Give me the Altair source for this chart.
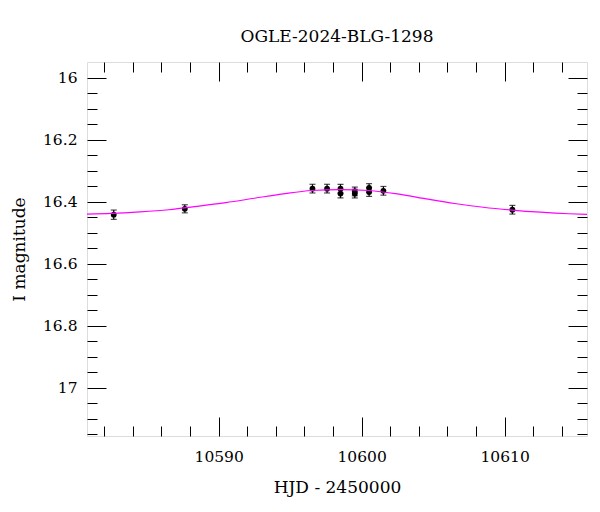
import altair as alt
import pandas as pd

# Observations (HJD - 2450000, I mag, error)
hjd = [10582.66, 10587.63, 10596.56, 10597.58, 10598.52, 10598.52, 10599.52, 10599.52,
       10600.52, 10600.52, 10601.52, 10610.54]
mag = [16.442, 16.423, 16.358, 16.358, 16.358, 16.374, 16.367, 16.374,
       16.356, 16.369, 16.365, 16.426]
err = [0.015, 0.013, 0.014, 0.014, 0.014, 0.014, 0.014, 0.014,
       0.014, 0.014, 0.014, 0.014]

# Model curve
model_t = [10580.79, 10582.5, 10584.5, 10586.5, 10588.5, 10590.5, 10592.5, 10594.5,
           10596.5, 10598.5, 10600.5, 10602.5, 10604.5, 10606.5, 10608.5, 10610.5,
           10612.5, 10614.5, 10615.76]
model_mag = [16.440, 16.438, 16.433, 16.426, 16.415, 16.403, 16.389, 16.375,
             16.364, 16.361, 16.364, 16.375, 16.391, 16.406, 16.418, 16.427,
             16.434, 16.439, 16.441]

x_major = [10590, 10600, 10610]
x_minor = [10582, 10584, 10586, 10588, 10592, 10594, 10596, 10598, 10602, 10604,
           10606, 10608, 10612, 10614]
y_major = [16.0, 16.2, 16.4, 16.6, 16.8, 17.0]
y_minor = [16.05, 16.1, 16.15, 16.25, 16.3, 16.35, 16.45, 16.5, 16.55, 16.65, 16.7,
           16.75, 16.85, 16.9, 16.95, 17.05, 17.1, 17.15]

x_domain = [10580.79, 10615.76]
y_domain = [15.95, 17.155]

obs = pd.DataFrame({"t": hjd, "mag": mag, "err": err})
obs["lo"] = obs["mag"] - obs["err"]
obs["hi"] = obs["mag"] + obs["err"]
model = pd.DataFrame({"t": model_t, "mag": model_mag})

FONT = "DejaVu Serif"
xs = alt.Scale(domain=x_domain, nice=False, zero=False)
ys = alt.Scale(domain=y_domain, nice=False, zero=False, reverse=True)

MAJ, MIN = 19, 10


def xaxis(orient, values, size, labels=False, title=None):
    kw = dict(orient=orient, values=values, tickSize=size, offset=-size, domain=False,
              grid=False, labels=labels, tickColor="black", tickWidth=1)
    if labels:
        kw.update(format="d", labelFont=FONT, labelFontSize=15.5, labelColor="black",
                  labelPadding=13)
    if title:
        kw.update(title=title, titleFont=FONT, titleFontSize=17, titleFontWeight="normal",
                  titleColor="black", titlePadding=15)
    else:
        kw.update(title=None)
    return alt.Axis(**kw)


def yaxis(orient, values, size, labels=False, title=None):
    kw = dict(orient=orient, values=values, tickSize=size, offset=-size, domain=False,
              grid=False, labels=labels, tickColor="black", tickWidth=1)
    if labels:
        kw.update(format=".1~f", labelFont=FONT, labelFontSize=15.5, labelColor="black",
                  labelPadding=10)
    if title:
        kw.update(title=title, titleFont=FONT, titleFontSize=17, titleFontWeight="normal",
                  titleColor="black", titlePadding=14)
    else:
        kw.update(title=None)
    return alt.Axis(**kw)


base = alt.Chart(obs)

bars = base.mark_rule(color="black", strokeWidth=1.2).encode(
    x=alt.X("t:Q", scale=xs, axis=xaxis("bottom", x_major, MAJ, True, "HJD - 2450000")),
    y=alt.Y("lo:Q", scale=ys, axis=yaxis("left", y_major, MAJ, True, "I magnitude")),
    y2="hi:Q",
)
cap_lo = base.mark_tick(color="black", orient="horizontal", size=6, thickness=1.2).encode(
    x=alt.X("t:Q", scale=xs, axis=xaxis("bottom", x_minor, MIN)),
    y=alt.Y("lo:Q", scale=ys, axis=yaxis("left", y_minor, MIN)),
)
cap_hi = base.mark_tick(color="black", orient="horizontal", size=6, thickness=1.2).encode(
    x=alt.X("t:Q", scale=xs, axis=xaxis("top", x_major, MAJ)),
    y=alt.Y("hi:Q", scale=ys, axis=yaxis("right", y_major, MAJ)),
)
pts = base.mark_circle(color="black", opacity=1, size=34).encode(
    x=alt.X("t:Q", scale=xs, axis=xaxis("top", x_minor, MIN)),
    y=alt.Y("mag:Q", scale=ys, axis=yaxis("right", y_minor, MIN)),
)
line = alt.Chart(model).mark_line(color="#ff00ff", strokeWidth=1.2, interpolate="monotone",
                                  clip=True).encode(
    x=alt.X("t:Q", scale=xs, axis=None),
    y=alt.Y("mag:Q", scale=ys, axis=None),
)

chart = alt.layer(bars, cap_lo, cap_hi, pts, line).resolve_axis(
    x="independent", y="independent"
).properties(
    width=500,
    height=374,
    title=alt.TitleParams("OGLE-2024-BLG-1298", font=FONT, fontSize=17,
                          fontWeight="normal", color="black", anchor="middle", offset=16),
    autosize=alt.AutoSizeParams(type="none"),
    padding={"left": 87, "top": 62, "right": 13, "bottom": 76},
).configure_view(stroke="black", strokeWidth=1).configure(background="white")

chart.save("out.html", embed_options={"renderer": "svg", "actions": False})
